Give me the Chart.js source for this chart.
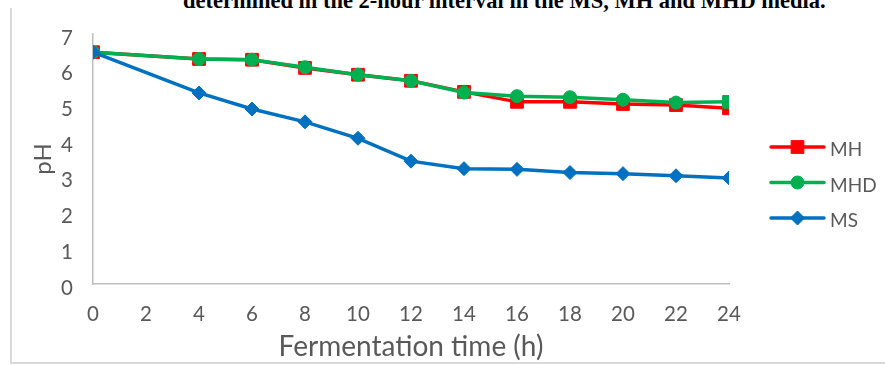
<!DOCTYPE html>
<html>
<head>
<meta charset="utf-8">
<script src="https://cdn.jsdelivr.net/npm/chart.js@4/dist/chart.umd.min.js"></script>
<style>
  html, body { margin: 0; padding: 0; background: #fff; }
  #wrap { position: relative; width: 885px; height: 365px; overflow: hidden; background: #fff; }
  #frame { position: absolute; left: 10px; top: 8px; width: 880px; height: 354px;
           border-left: 2px solid #d9d9d9; border-bottom: 2px solid #d9d9d9; }
  #caption { position: absolute; left: 183px; top: -10px; white-space: nowrap;
             font: bold 22.5px 'Liberation Serif', 'Times New Roman', serif; line-height: 22px; color: #000; }
  canvas { position: absolute; left: 0; top: 0; }
</style>
</head>
<body>
<div id="wrap">
  <div id="frame"></div>
  <div id="caption">determined in the 2-hour interval in the MS, MH and MHD media.</div>
  <canvas id="c" width="885" height="365"></canvas>
</div>
<script>
// ---- data ----
const hours = [0, 4, 6, 8, 10, 12, 14, 16, 18, 20, 22, 24];
const mhValues  = [6.49, 6.30, 6.28, 6.05, 5.86, 5.69, 5.38, 5.10, 5.10, 5.04, 5.01, 4.92];
const mhdValues = [6.49, 6.30, 6.28, 6.07, 5.86, 5.69, 5.36, 5.26, 5.23, 5.16, 5.08, 5.10];
const msValues  = [6.49, 5.35, 4.90, 4.54, 4.08, 3.44, 3.23, 3.21, 3.12, 3.09, 3.03, 2.97];
const seriesNames = ['MH', 'MHD', 'MS'];
const xTicks = [0, 2, 4, 6, 8, 10, 12, 14, 16, 18, 20, 22, 24];
const yTicks = [0, 1, 2, 3, 4, 5, 6, 7];
const xTitle = 'Fermentation time (h)';
const yTitle = 'pH';

// ---- styles ----
const RED = '#ff0000', GREEN = '#00b050', BLUE = '#0070c0';
const TXT = '#595959', AXIS = '#bfbfbf';
const FONT = "Lato, 'Open Sans', sans-serif";

const toPts = (vals) => hours.map((h, i) => ({ x: h, y: vals[i] }));

const mhdStyles = hours.map((h, i) => i === hours.length - 1 ? 'rect' : 'circle');
const mhdRadius = hours.map((h, i) => i === hours.length - 1 ? 9 : 6.5);

const datasets = [
  { label: seriesNames[0], data: toPts(mhValues), borderColor: RED, backgroundColor: RED,
    pointStyle: 'rect', pointRadius: 9, pointBorderWidth: 1, borderWidth: 3.5, order: 3 },
  { label: seriesNames[1], data: toPts(mhdValues), borderColor: GREEN, backgroundColor: GREEN,
    pointStyle: mhdStyles, pointRadius: mhdRadius, pointBorderWidth: 1, borderWidth: 3.5, order: 2 },
  { label: seriesNames[2], data: toPts(msValues), borderColor: BLUE, backgroundColor: BLUE,
    pointStyle: 'rectRot', pointRadius: 7, pointBorderWidth: 1, borderWidth: 3.5, order: 1 }
];

function drawMarker(ctx, style, color, x, y) {
  ctx.save();
  ctx.fillStyle = color; ctx.strokeStyle = color; ctx.lineWidth = 1;
  ctx.beginPath();
  if (style === 'rect') {
    const s = 9 * Math.SQRT1_2;
    ctx.rect(x - s, y - s, 2 * s, 2 * s);
  } else if (style === 'circle') {
    ctx.arc(x, y, 6.5, 0, Math.PI * 2);
  } else {
    const r = 7;
    ctx.moveTo(x - r, y); ctx.lineTo(x, y - r); ctx.lineTo(x + r, y); ctx.lineTo(x, y + r); ctx.closePath();
  }
  ctx.fill(); ctx.stroke();
  ctx.restore();
}

const legendPlugin = {
  id: 'sideLegend',
  afterDraw(chart) {
    const ctx = chart.ctx;
    const items = [
      { name: seriesNames[0], color: RED, style: 'rect' },
      { name: seriesNames[1], color: GREEN, style: 'circle' },
      { name: seriesNames[2], color: BLUE, style: 'rectRot' }
    ];
    const x0 = 771, x1 = 824, y0 = 147, dy = 35.5;
    items.forEach((it, i) => {
      const y = y0 + i * dy;
      ctx.save();
      ctx.strokeStyle = it.color; ctx.lineWidth = 3.5; ctx.lineCap = 'round';
      ctx.beginPath(); ctx.moveTo(x0, y); ctx.lineTo(x1, y); ctx.stroke();
      ctx.restore();
      drawMarker(ctx, it.style, it.color, (x0 + x1) / 2, y);
      ctx.save();
      ctx.fillStyle = TXT; ctx.font = '19px ' + FONT;
      ctx.textAlign = 'left'; ctx.textBaseline = 'middle';
      ctx.fillText(it.name, 830, y + 3);
      ctx.restore();
    });
  }
};

new Chart(document.getElementById('c'), {
  type: 'line',
  data: { datasets },
  plugins: [legendPlugin],
  options: {
    responsive: false,
    animation: false,
    devicePixelRatio: 1,
    layout: { padding: { left: 0, right: 156, top: 34, bottom: 0 } },
    plugins: { legend: { display: false }, tooltip: { enabled: false } },
    elements: { line: { tension: 0 } },
    scales: {
      x: {
        type: 'linear', min: 0, max: 24,
        afterBuildTicks: (s) => { s.ticks = xTicks.map(v => ({ value: v })); },
        afterFit: (s) => { s.height = 81; },
        grid: { display: false },
        border: { display: true, color: AXIS, width: 1.5 },
        ticks: { color: TXT, font: { family: FONT, size: 20.5 }, padding: 10, maxRotation: 0, autoSkip: false },
        title: { display: true, text: xTitle, color: TXT, font: { family: FONT, size: 28 }, padding: { top: 0, bottom: 1 } }
      },
      y: {
        type: 'linear', min: 0, max: 7,
        afterBuildTicks: (s) => { s.ticks = yTicks.map(v => ({ value: v })); },
        afterFit: (s) => { s.width = 93; },
        grid: { display: false },
        border: { display: true, color: AXIS, width: 1.5 },
        ticks: { color: TXT, font: { family: FONT, size: 20.5 }, padding: 12, labelOffset: 4 },
        title: { display: true, text: yTitle, color: TXT, font: { family: FONT, size: 24 }, padding: { top: 29, bottom: 0 } }
      }
    }
  }
});
</script>
</body>
</html>
